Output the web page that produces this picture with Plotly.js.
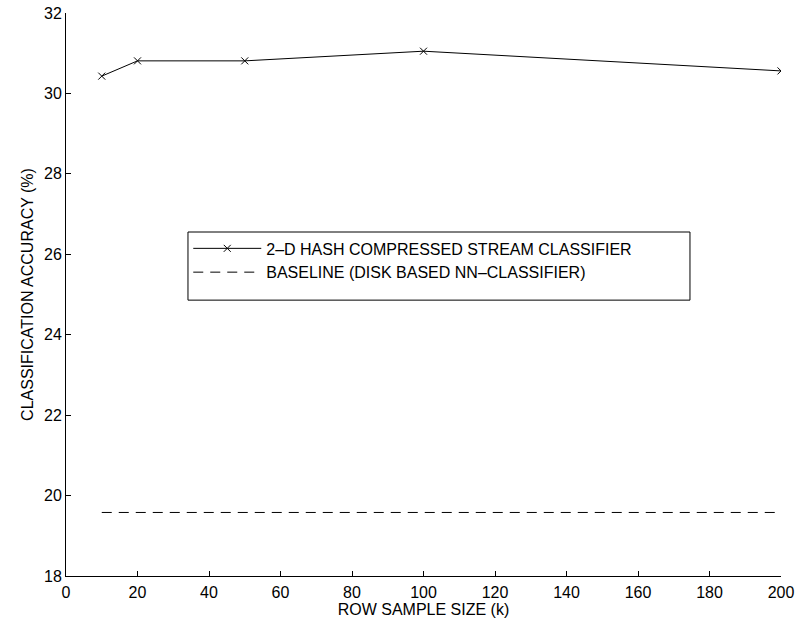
<!DOCTYPE html>
<html><head><meta charset="utf-8">
<script src="https://cdn.plot.ly/plotly-3.0.1.min.js"></script>
<style>html,body{margin:0;padding:0;background:#fff}</style>
</head><body>
<div id="chart" style="width:796px;height:622px"></div>
<script>
var sampleSize = [10, 20, 50, 100, 200];
var hashAccuracy = [30.43, 30.81, 30.81, 31.05, 30.56];
var baselineX = [10, 200];
var baselineAccuracy = [19.58, 19.58];
var xTicks = [0, 20, 40, 60, 80, 100, 120, 140, 160, 180, 200];
var yTicks = [18, 20, 22, 24, 26, 28, 30, 32];

var traces = [
  {x: sampleSize, y: hashAccuracy, type: 'scatter', mode: 'lines+markers',
   name: '2–D HASH COMPRESSED STREAM CLASSIFIER',
   line: {color: '#000', width: 1},
   marker: {symbol: 'x-thin-open', size: 7, color: '#000', line: {color: '#000', width: 1}}},
  {x: baselineX, y: baselineAccuracy, type: 'scatter', mode: 'lines',
   name: 'BASELINE (DISK BASED NN–CLASSIFIER)',
   line: {color: '#000', width: 1, dash: '10px,7px'}}
];

var fam = '"Liberation Sans", Arial, Helvetica, sans-serif';
var font16 = {family: fam, size: 16, color: '#000'};
var layout = {
  width: 796, height: 622,
  margin: {l: 66, r: 15, t: 13, b: 46},
  paper_bgcolor: '#fff', plot_bgcolor: '#fff',
  font: font16,
  showlegend: true,
  legend: {x: 0.171, y: 0.612, xanchor: 'left', yanchor: 'top',
           borderwidth: 0, bgcolor: 'rgba(0,0,0,0)',
           font: font16, itemwidth: 68, tracegroupgap: 0},
  shapes: [{type: 'rect', xref: 'paper', yref: 'paper', layer: 'below',
            x0: 0.1706, x1: 0.8727, y0: 0.490, y1: 0.611,
            line: {color: '#000', width: 1}, fillcolor: '#fff'}],
  xaxis: {range: [0, 200], tickvals: xTicks, ticktext: xTicks.map(String),
          ticks: 'inside', ticklen: 5, tickcolor: '#000', showgrid: false, zeroline: false,
          showline: true, linecolor: '#000', linewidth: 1, mirror: false,
          tickfont: font16, ticklabelstandoff: 2,
          title: {text: 'ROW SAMPLE SIZE (k)', font: font16, standoff: 1}},
  yaxis: {range: [18, 32], tickvals: yTicks, ticktext: yTicks.map(String),
          ticks: 'inside', ticklen: 5, tickcolor: '#000', showgrid: false, zeroline: false,
          showline: true, linecolor: '#000', linewidth: 1, mirror: false,
          tickfont: font16,
          title: {text: 'CLASSIFICATION ACCURACY (%)', font: font16, standoff: 6}}
};
Plotly.newPlot('chart', traces, layout, {displayModeBar: false, staticPlot: true});
</script>
</body></html>
